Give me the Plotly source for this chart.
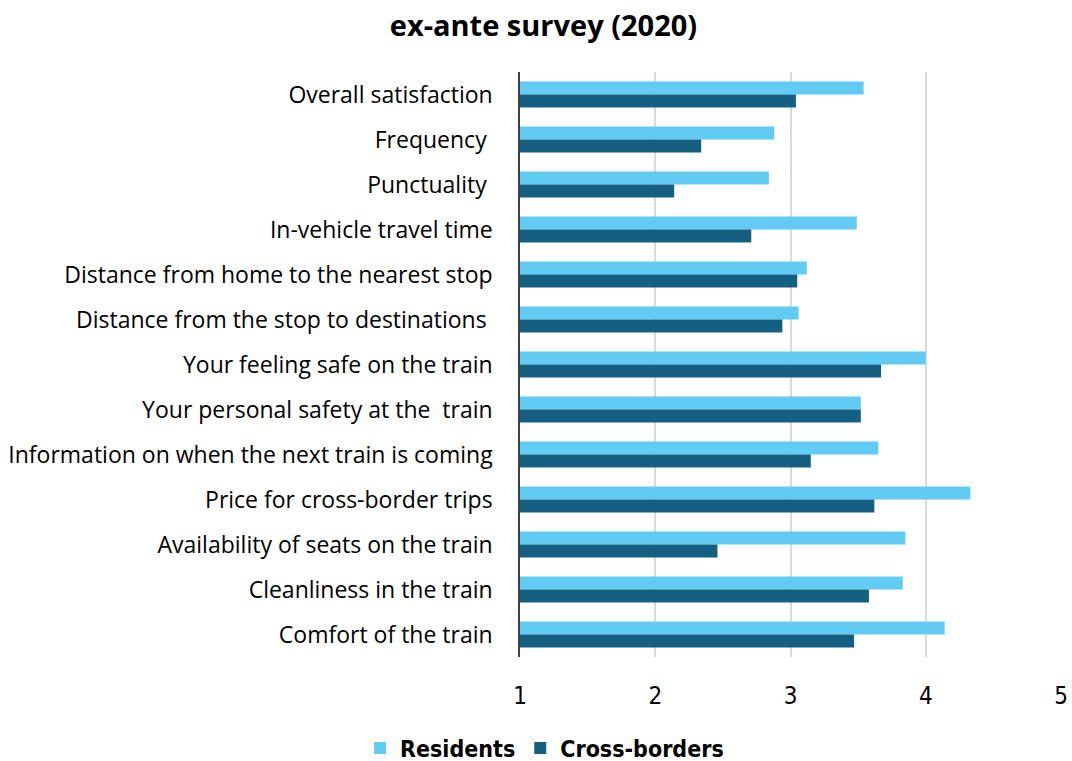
import plotly.graph_objects as go

# Satisfaction items, listed top to bottom
categories = [
    "Overall satisfaction",
    "Frequency\u00a0",
    "Punctuality\u00a0",
    "In-vehicle travel time",
    "Distance from home to the nearest stop",
    "Distance from the stop to destinations\u00a0",
    "Your feeling safe on the train",
    "Your personal safety at the \u00a0train",
    "Information on when the next train is coming",
    "Price for cross-border trips",
    "Availability of seats on the train",
    "Cleanliness in the train",
    "Comfort of the train",
]

residents = [3.54, 2.88, 2.84, 3.49, 3.12, 3.06, 4.00, 3.52, 3.65, 4.33, 3.85, 3.83, 4.14]
cross_borders = [3.04, 2.34, 2.14, 2.71, 3.05, 2.94, 3.67, 3.52, 3.15, 3.62, 2.46, 3.58, 3.47]

x_ticks = [1, 2, 3, 4, 5]

NARROW = "DejaVu Sans Condensed, Liberation Sans Narrow, sans-serif"

fig = go.Figure()
fig.add_trace(go.Bar(
    y=categories, x=residents, orientation="h", name="<b>Residents</b>",
    marker=dict(color="#61CBF3", line=dict(width=0)),
))
fig.add_trace(go.Bar(
    y=categories, x=cross_borders, orientation="h", name="<b>Cross-borders</b>",
    marker=dict(color="#156082", line=dict(width=0)),
))

fig.update_layout(
    width=1072, height=761,
    margin=dict(l=520, r=11, t=72, b=104),
    paper_bgcolor="white", plot_bgcolor="white",
    barmode="group", bargap=0.42, bargroupgap=0,
    title=dict(
        text="<b>ex-ante survey (2020)</b>",
        x=0.507, xanchor="center", y=0.966, yanchor="middle",
        font=dict(family="Open Sans, sans-serif", size=29, color="black"),
    ),
    legend=dict(
        orientation="h", xref="container", yref="container",
        x=0.508, xanchor="center", y=0.017, yanchor="middle",
        font=dict(family=NARROW, size=23, color="black"),
        itemwidth=30, traceorder="normal",
    ),
    font=dict(family="Open Sans, sans-serif", color="black"),
    showlegend=True,
)

fig.update_xaxes(
    range=[1, 5], tickvals=x_ticks, ticktext=[str(t) for t in x_ticks],
    showgrid=True, gridcolor="#d9d9d9", gridwidth=1.5,
    zeroline=False, showline=False, ticks="", automargin=False,
    tickfont=dict(family=NARROW, size=24, color="black"),
    ticklabelstandoff=22,
)
fig.update_yaxes(
    autorange="reversed", showgrid=False, showline=True,
    linecolor="#404040", linewidth=1.5, ticks="", automargin=False,
    tickfont=dict(family="Open Sans, sans-serif", size=23, color="black"),
    ticklabelstandoff=21,
)

fig.write_html("out.html")
